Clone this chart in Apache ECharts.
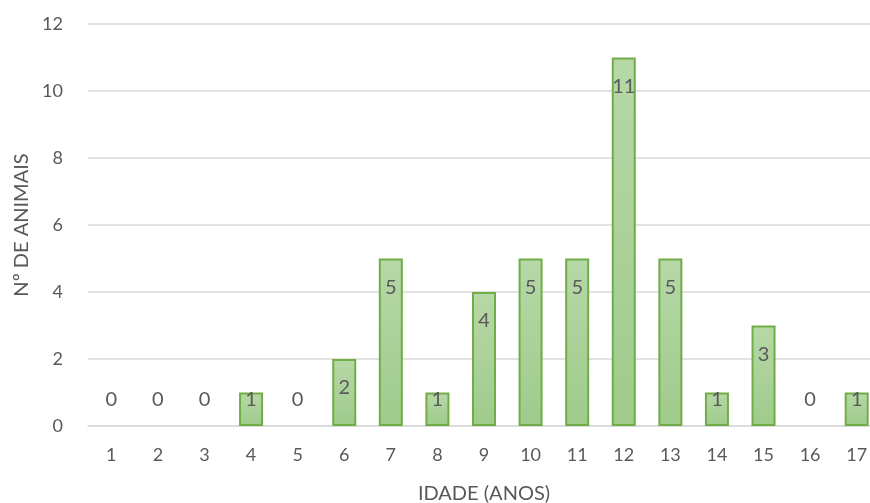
<!DOCTYPE html>
<html>
<head>
<meta charset="utf-8">
<script src="https://cdn.jsdelivr.net/npm/echarts@6/dist/echarts.min.js"></script>
<style>
  html, body { margin: 0; padding: 0; background: #fff; overflow: hidden; }
  #chart { width: 870px; height: 503px; }
</style>
</head>
<body>
<div id="chart"></div>
<script>
// Idade dos animais (anos) e número de animais em cada idade
const idades = ['1', '2', '3', '4', '5', '6', '7', '8', '9', '10', '11', '12', '13', '14', '15', '16', '17'];
const numAnimais = [0, 0, 0, 1, 0, 2, 5, 1, 4, 5, 5, 11, 5, 1, 3, 0, 1];
const yTicks = { min: 0, max: 12, interval: 2 };

const textColor = '#595959';
const fontFamily = 'Lato, "Open Sans", sans-serif';

const chart = echarts.init(document.getElementById('chart'), null, { renderer: 'canvas' });

const barData = numAnimais.map(v => ({
  value: v,
  itemStyle: v === 0 ? { borderWidth: 0 } : undefined,
  label: v <= 1
    ? { position: 'insideBottom', distance: 16 }
    : { position: 'insideTop', distance: 19 }
}));

chart.setOption({
  animation: false,
  // the plot area runs a little past the right edge of the canvas
  grid: {
    left: 88, top: 24, width: 792, height: 402,
    containLabel: false,
    outerBoundsMode: 'none'
  },
  xAxis: {
    type: 'category',
    data: idades,
    name: 'IDADE (ANOS)',
    nameLocation: 'middle',
    nameGap: 58,
    nameTextStyle: { color: textColor, fontSize: 20, fontFamily },
    axisLine: { lineStyle: { color: '#d9d9d9', width: 1.5 } },
    axisTick: { show: false },
    axisLabel: { color: textColor, fontSize: 18, fontFamily, margin: 20 }
  },
  yAxis: {
    type: 'value',
    min: yTicks.min,
    max: yTicks.max,
    interval: yTicks.interval,
    name: 'Nº DE ANIMAIS',
    nameLocation: 'middle',
    nameGap: 56,
    nameTextStyle: { color: textColor, fontSize: 20, fontFamily },
    axisLine: { show: false },
    axisTick: { show: false },
    axisLabel: { color: textColor, fontSize: 18, fontFamily, margin: 25 },
    splitLine: { lineStyle: { color: '#d9d9d9', width: 1.5 } }
  },
  series: [{
    type: 'bar',
    data: barData,
    barWidth: 24,
    itemStyle: {
      color: new echarts.graphic.LinearGradient(0, 0, 0, 1, [
        { offset: 0, color: '#b6d8a7' },
        { offset: 1, color: '#9fcb8b' }
      ]),
      borderColor: '#70ad47',
      borderWidth: 2
    },
    label: {
      show: true,
      color: textColor,
      fontSize: 20,
      fontFamily
    }
  }]
});
</script>
</body>
</html>
